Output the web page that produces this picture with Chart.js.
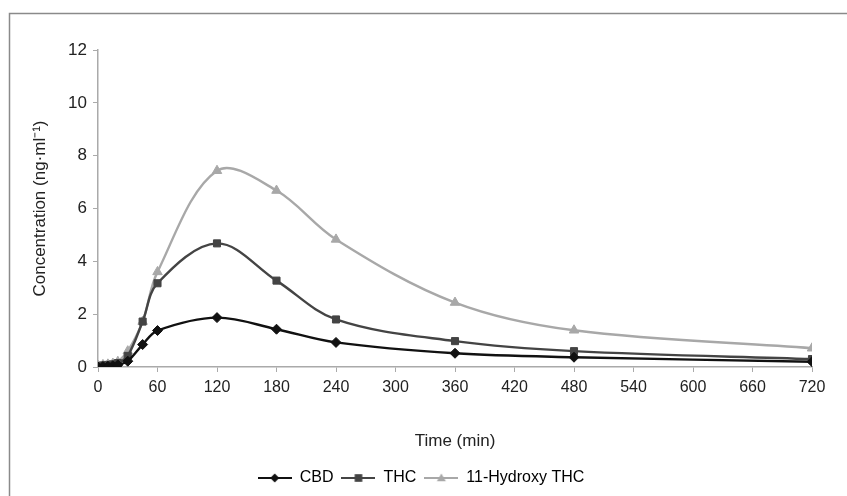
<!DOCTYPE html>
<html>
<head>
<meta charset="utf-8">
<script src="https://cdn.jsdelivr.net/npm/chart.js@4.4.1/dist/chart.umd.min.js"></script>
<style>
  html, body { margin: 0; padding: 0; background: #fff; }
  #wrap { width: 847px; height: 496px; position: relative; }
</style>
</head>
<body>
<div id="wrap"><canvas id="pkChart" width="847" height="496"></canvas></div>
<script>
// Sampling times (min) and plasma concentrations (ng/ml)
var times = [0, 5, 10, 15, 20, 30, 45, 60, 120, 180, 240, 360, 480, 720];
var cbd   = [0, 0.02, 0.03, 0.05, 0.08, 0.22, 0.85, 1.38, 1.87, 1.43, 0.93, 0.52, 0.37, 0.2];
var thc   = [0.04, 0.06, 0.08, 0.1, 0.15, 0.42, 1.72, 3.17, 4.68, 3.27, 1.8, 0.98, 0.6, 0.3];
var ohThc = [0.05, 0.08, 0.1, 0.13, 0.2, 0.6, 1.72, 3.6, 7.43, 6.68, 4.83, 2.44, 1.39, 0.71];
var seriesNames = ['CBD', 'THC', '11-Hydroxy THC'];
var xTicks = [0, 60, 120, 180, 240, 300, 360, 420, 480, 540, 600, 660, 720];

(function() {
  var font = "'Liberation Sans', Arial, sans-serif";
  Chart.defaults.font.family = font;
  Chart.defaults.color = '#222';

  function pts(ys) {
    return times.map(function(t, i) { return { x: t, y: ys[i] }; });
  }

  var styles = [
    { color: '#111111', point: 'rectRot', radius: 5 },
    { color: '#444444', point: 'rect', radius: 5 },
    { color: '#a8a8a8', point: 'triangle', radius: 5.5 }
  ];

  // small canvas "line + marker" swatch for the legend
  function swatch(st) {
    var c = document.createElement('canvas');
    c.width = 34; c.height = 14;
    var g = c.getContext('2d');
    g.strokeStyle = st.color; g.lineWidth = 2;
    g.beginPath(); g.moveTo(0, 7); g.lineTo(34, 7); g.stroke();
    g.fillStyle = st.color;
    g.beginPath();
    var r = 4.5;
    if (st.point === 'rectRot') {
      g.moveTo(17, 7 - r); g.lineTo(17 + r, 7); g.lineTo(17, 7 + r); g.lineTo(17 - r, 7);
    } else if (st.point === 'rect') {
      g.rect(17 - r * 0.85, 7 - r * 0.85, r * 1.7, r * 1.7);
    } else {
      g.moveTo(17, 7 - r); g.lineTo(17 + r, 7 + r * 0.7); g.lineTo(17 - r, 7 + r * 0.7);
    }
    g.closePath(); g.fill();
    return c;
  }

  var allData = [cbd, thc, ohThc];
  var datasets = allData.map(function(d, i) {
    var st = styles[i];
    return {
      label: seriesNames[i],
      data: pts(d),
      borderColor: st.color,
      backgroundColor: st.color,
      pointBackgroundColor: st.color,
      pointBorderColor: st.color,
      pointStyle: st.point,
      pointRadius: st.radius,
      pointBorderWidth: 1,
      borderWidth: 2.4,
      tension: 0.35,
      order: i === 2 ? 3 : (i === 1 ? 2 : 1)
    };
  });

  var frame = {
    id: 'frame',
    beforeDraw: function(chart) {
      var c = chart.ctx;
      c.save();
      c.strokeStyle = '#8a8a8a';
      c.lineWidth = 1.5;
      c.beginPath();
      c.moveTo(9.5, chart.height);
      c.lineTo(9.5, 13.5);
      c.lineTo(chart.width, 13.5);
      c.stroke();
      c.restore();
    }
  };

  new Chart(document.getElementById('pkChart').getContext('2d'), {
    type: 'line',
    data: { datasets: datasets },
    plugins: [frame],
    options: {
      responsive: false,
      animation: false,
      layout: { padding: { left: 30, right: 35, top: 50, bottom: 0 } },
      plugins: {
        tooltip: { enabled: false },
        legend: {
          position: 'bottom',
          labels: {
            usePointStyle: true,
            pointStyleWidth: 34,
            padding: 8,
            font: { size: 16 },
            color: '#222',
            generateLabels: function(chart) {
              return chart.data.datasets.map(function(ds, i) {
                return {
                  text: ds.label,
                  pointStyle: swatch(styles[i]),
                  fillStyle: ds.borderColor,
                  strokeStyle: ds.borderColor,
                  lineWidth: 0,
                  datasetIndex: i
                };
              });
            }
          }
        }
      },
      scales: {
        x: {
          type: 'linear',
          min: 0,
          max: 720,
          afterBuildTicks: function(axis) {
            axis.ticks = xTicks.map(function(v) { return { value: v }; });
          },
          grid: { drawOnChartArea: false, drawTicks: true, tickLength: 5, color: '#aaaaaa' },
          border: { color: '#aaaaaa', width: 1.5 },
          ticks: { font: { size: 16 }, color: '#222', padding: 6, maxRotation: 0, autoSkip: false },
          title: { display: true, text: 'Time (min)', font: { size: 17 }, color: '#222', padding: { top: 22, bottom: 10 } },
          afterFit: function(axis) { axis.height = 95; }
        },
        y: {
          min: 0,
          max: 12,
          ticks: { stepSize: 2, font: { size: 17 }, color: '#222', padding: 6 },
          grid: { drawOnChartArea: false, drawTicks: true, tickLength: 5, color: '#aaaaaa' },
          border: { color: '#aaaaaa', width: 1.5 },
          title: { display: true, text: 'Concentration (ng·ml⁻¹)', font: { size: 17 }, color: '#222', padding: { top: 0, bottom: 4 } },
          afterFit: function(axis) { axis.width = 68; }
        }
      }
    }
  });
})();
</script>
</body>
</html>
